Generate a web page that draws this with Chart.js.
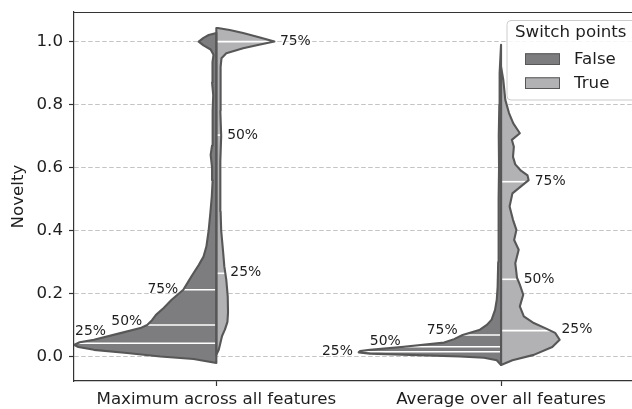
<!DOCTYPE html>
<html>
<head>
<meta charset="utf-8">
<script src="https://cdn.jsdelivr.net/npm/chart.js@4/dist/chart.umd.min.js"></script>
<style>
  html, body { margin: 0; padding: 0; background: #ffffff; }
  #wrap { width: 632px; height: 409px; }
</style>
</head>
<body>
<div id="wrap"><canvas id="chart" width="632" height="409"></canvas></div>
<script>
// ---- data -------------------------------------------------------------
const categories = ['Maximum across all features', 'Average over all features'];
const groups = ['False', 'True'];
const yTicks = [0.0, 0.2, 0.4, 0.6, 0.8, 1.0];
const quartileLabels = ['25%', '50%', '75%'];

// Density profiles of each half violin: [novelty, half-width in category units]
const maxFalseProfile = [
  [-0.021, 0.0], [-0.008, 0.08], [0.0, 0.197], [0.011, 0.314], [0.021, 0.43],
  [0.030, 0.485], [0.037, 0.5], [0.045, 0.48], [0.053, 0.43], [0.074, 0.337],
  [0.09, 0.267], [0.10, 0.243], [0.115, 0.226], [0.132, 0.212], [0.154, 0.185],
  [0.18, 0.157], [0.212, 0.116], [0.24, 0.097], [0.265, 0.08], [0.29, 0.062],
  [0.317, 0.045], [0.349, 0.035], [0.40, 0.027], [0.456, 0.021], [0.508, 0.016],
  [0.56, 0.013], [0.60, 0.015], [0.64, 0.02], [0.67, 0.015], [0.72, 0.012],
  [0.78, 0.014], [0.83, 0.011], [0.87, 0.015], [0.91, 0.012], [0.935, 0.015],
  [0.958, 0.01], [0.975, 0.02], [0.988, 0.045], [1.0, 0.062], [1.012, 0.045],
  [1.021, 0.027], [1.027, 0.0]
];
const maxTrueProfile = [
  [0.005, 0.0], [0.02, 0.008], [0.042, 0.014], [0.065, 0.02], [0.085, 0.03],
  [0.11, 0.039], [0.14, 0.041], [0.19, 0.04], [0.243, 0.035], [0.286, 0.028],
  [0.33, 0.024], [0.40, 0.017], [0.46, 0.015], [0.56, 0.013], [0.62, 0.015],
  [0.70, 0.017], [0.78, 0.014], [0.85, 0.016], [0.92, 0.014], [0.947, 0.018],
  [0.963, 0.035], [0.979, 0.094], [0.99, 0.15], [1.0, 0.204], [1.014, 0.15],
  [1.027, 0.094], [1.037, 0.047], [1.043, 0.005], [1.043, 0.0]
];
const avgFalseProfile = [
  [-0.027, 0.0], [-0.012, 0.015], [-0.004, 0.06], [0.0, 0.145], [0.005, 0.32],
  [0.009, 0.46], [0.013, 0.5], [0.017, 0.495], [0.021, 0.46], [0.031, 0.342],
  [0.044, 0.2], [0.055, 0.165], [0.068, 0.135], [0.085, 0.074], [0.10, 0.05],
  [0.117, 0.033], [0.148, 0.021], [0.18, 0.015], [0.22, 0.012], [0.30, 0.01],
  [0.40, 0.008], [0.50, 0.009], [0.60, 0.007], [0.70, 0.008], [0.80, 0.006],
  [0.90, 0.005], [0.99, 0.0]
];
const avgTrueProfile = [
  [-0.027, 0.0], [-0.012, 0.04], [0.005, 0.115], [0.03, 0.18], [0.053, 0.206],
  [0.075, 0.19], [0.09, 0.155], [0.106, 0.115], [0.127, 0.08], [0.159, 0.066],
  [0.196, 0.078], [0.228, 0.066], [0.25, 0.056], [0.296, 0.05], [0.339, 0.062],
  [0.37, 0.046], [0.402, 0.054], [0.434, 0.042], [0.476, 0.03], [0.518, 0.04],
  [0.54, 0.07], [0.56, 0.097], [0.575, 0.093], [0.59, 0.07], [0.61, 0.05],
  [0.634, 0.042], [0.666, 0.045], [0.688, 0.038], [0.709, 0.066], [0.74, 0.043],
  [0.773, 0.028], [0.815, 0.015], [0.878, 0.008], [0.92, 0.0]
];

// Quartiles (25%, 50%, 75%) of each half
const maxFalseQuartiles = [0.042, 0.100, 0.212];
const maxTrueQuartiles = [0.264, 0.703, 1.000];
const avgFalseQuartiles = [0.015, 0.031, 0.068];
const avgTrueQuartiles = [0.082, 0.245, 0.555];

// ---- styling ------------------------------------------------------------
const FONT = 'DejaVu Sans';
const TEXT = '#1e1e1e';
const FILL = { False: '#7d7d7f', True: '#b2b2b5' };
const EDGE = '#575757';
const AXIS = '#333333';

// Each half violin: category index, side (-1 left / +1 right), group,
// and placement of its quartile labels relative to the quartile line end
// ([dx px, dy px, text alignment]).
const halves = [
  { cat: 0, side: -1, group: 'False', profile: maxFalseProfile, quartiles: maxFalseQuartiles,
    labelPlacement: [[-2.5, -11.5, 'left'], [-5, -3.5, 'right'], [-5, 0, 'right']] },
  { cat: 0, side: 1, group: 'True', profile: maxTrueProfile, quartiles: maxTrueQuartiles,
    labelPlacement: [[5, -1, 'left'], [6, 0, 'left'], [5.5, 0, 'left']] },
  { cat: 1, side: -1, group: 'False', profile: avgFalseProfile, quartiles: avgFalseQuartiles,
    labelPlacement: [[-6.5, 0, 'right'], [-3, -5, 'right'], [-5, -5, 'right']] },
  { cat: 1, side: 1, group: 'True', profile: avgTrueProfile, quartiles: avgTrueQuartiles,
    labelPlacement: [[11, -1, 'left'], [6, 0, 'left'], [8, 0, 'left']] }
];

// half-width of a profile at a given novelty value
function widthAt(profile, y) {
  for (let i = 1; i < profile.length; i++) {
    const [y0, w0] = profile[i - 1];
    const [y1, w1] = profile[i];
    if (y >= y0 && y <= y1) {
      return y1 === y0 ? Math.max(w0, w1) : w0 + (w1 - w0) * (y - y0) / (y1 - y0);
    }
  }
  return 0;
}

function halfPolygon(h) {
  const pts = [{ x: h.cat, y: h.profile[0][0] }];
  h.profile.forEach(([y, w]) => pts.push({ x: h.cat + h.side * w, y }));
  const top = h.profile[h.profile.length - 1][0];
  pts.push({ x: h.cat, y: top });
  pts.push({ x: h.cat, y: h.profile[0][0] });
  return pts;
}

const datasets = [];
halves.forEach(h => {
  const poly = halfPolygon(h);
  // body fill (bottom layer)
  datasets.push({
    label: h.group, data: poly, showLine: true, fill: 'shape',
    backgroundColor: FILL[h.group], borderColor: 'rgba(0,0,0,0)', borderWidth: 0,
    pointRadius: 0, tension: 0, order: 3
  });
  // quartile lines (middle layer)
  h.quartiles.forEach(q => {
    datasets.push({
      data: [{ x: h.cat, y: q }, { x: h.cat + h.side * widthAt(h.profile, q), y: q }],
      showLine: true, fill: false, borderColor: '#ffffff', borderWidth: 1.6,
      pointRadius: 0, tension: 0, order: 2
    });
  });
  // outline (top layer)
  datasets.push({
    data: poly, showLine: true, fill: false, borderColor: EDGE, borderWidth: 2.1,
    borderJoinStyle: 'round', pointRadius: 0, tension: 0, order: 1
  });
});

// quartile labels, top spine and the legend box
const decorations = {
  id: 'decorations',
  afterDatasetsDraw(chart) {
    const { ctx, scales: { x, y } } = chart;
    ctx.save();
    ctx.font = '13.9px "' + FONT + '"';
    ctx.fillStyle = TEXT;
    ctx.textBaseline = 'middle';
    halves.forEach(h => {
      h.quartiles.forEach((q, i) => {
        const px = x.getPixelForValue(h.cat + h.side * widthAt(h.profile, q));
        const py = y.getPixelForValue(q);
        const [dx, dy, align] = h.labelPlacement[i];
        ctx.textAlign = align;
        ctx.fillText(quartileLabels[i], px + dx, py + dy);
      });
    });
    ctx.restore();
  },
  afterDraw(chart) {
    const { ctx, chartArea: a } = chart;
    ctx.save();
    // top spine
    ctx.strokeStyle = AXIS;
    ctx.lineWidth = 1.2;
    ctx.beginPath();
    ctx.moveTo(a.left - 0.6, Math.round(a.top) + 0.5);
    ctx.lineTo(a.right, Math.round(a.top) + 0.5);
    ctx.stroke();

    // legend
    const lx = a.right - 125, ly = a.top + 8.5, lw = 140, lh = 79.5, r = 4;
    ctx.beginPath();
    ctx.moveTo(lx + r, ly);
    ctx.lineTo(lx + lw - r, ly);
    ctx.arcTo(lx + lw, ly, lx + lw, ly + r, r);
    ctx.lineTo(lx + lw, ly + lh - r);
    ctx.arcTo(lx + lw, ly + lh, lx + lw - r, ly + lh, r);
    ctx.lineTo(lx + r, ly + lh);
    ctx.arcTo(lx, ly + lh, lx, ly + lh - r, r);
    ctx.lineTo(lx, ly + r);
    ctx.arcTo(lx, ly, lx + r, ly, r);
    ctx.closePath();
    ctx.fillStyle = 'rgba(255,255,255,0.85)';
    ctx.fill();
    ctx.strokeStyle = '#cccccc';
    ctx.lineWidth = 1;
    ctx.stroke();

    ctx.font = '16.67px "' + FONT + '"';
    ctx.fillStyle = TEXT;
    ctx.textAlign = 'left';
    ctx.textBaseline = 'middle';
    ctx.fillText('Switch points', lx + 8, ly + 12.5);
    groups.forEach((g, i) => {
      const sy = ly + 32.8 + i * 24;
      ctx.fillStyle = FILL[g];
      ctx.fillRect(lx + 18, sy, 35, 11.7);
      ctx.strokeStyle = EDGE;
      ctx.lineWidth = 1;
      ctx.strokeRect(lx + 18.5, sy + 0.5, 34, 10.7);
      ctx.fillStyle = TEXT;
      ctx.fillText(g, lx + 67, sy + 6);
    });
    ctx.restore();
  }
};

const tickFont = { family: FONT, size: 16.67 };

new Chart(document.getElementById('chart'), {
  type: 'scatter',
  data: { datasets },
  options: {
    responsive: false,
    animation: false,
    devicePixelRatio: 1,
    layout: { padding: { top: 12, left: 0, right: 0, bottom: 0 } },
    plugins: { legend: { display: false }, tooltip: { enabled: false } },
    scales: {
      x: {
        type: 'linear', min: -0.5, max: 1.46,
        afterBuildTicks: s => { s.ticks = categories.map((_, i) => ({ value: i })); },
        afterFit: s => { s.height = 28; s.paddingLeft = 0; s.paddingRight = 0; },
        ticks: {
          callback: v => categories[v], autoSkip: false, maxRotation: 0, minRotation: 0,
          padding: 4, color: TEXT, font: tickFont
        },
        grid: { drawOnChartArea: false, drawTicks: true, tickLength: 5, tickWidth: 1.2, tickColor: AXIS },
        border: { display: true, color: AXIS, width: 1.2 }
      },
      y: {
        type: 'linear', min: -0.078, max: 1.094,
        afterBuildTicks: s => { s.ticks = yTicks.map(v => ({ value: v })); },
        afterFit: s => { s.width = 74; s.paddingTop = 0; s.paddingBottom = 0; },
        ticks: { callback: v => v.toFixed(1), autoSkip: false, padding: 6, color: TEXT, font: tickFont },
        grid: { color: '#c4c4c4', lineWidth: 1, drawTicks: true, tickLength: 5, tickWidth: 1.2, tickColor: AXIS },
        border: { display: true, color: AXIS, width: 1.2, dash: [4.5, 2.5] },
        title: { display: true, text: 'Novelty', color: TEXT, font: tickFont, padding: { top: 9, bottom: 0 } }
      }
    }
  },
  plugins: [decorations]
});
</script>
</body>
</html>
